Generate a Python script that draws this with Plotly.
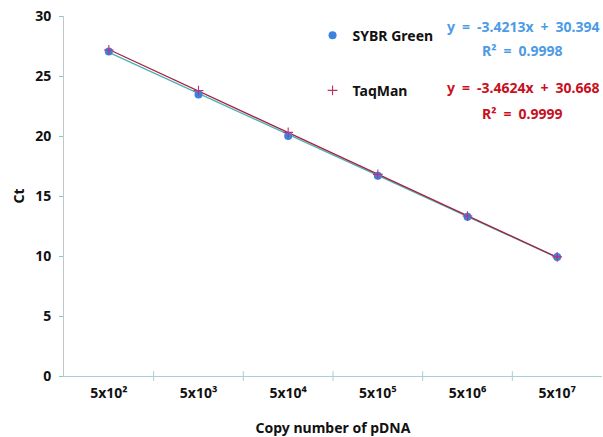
import plotly.graph_objects as go

categories = ["5x10²", "5x10³", "5x10⁴", "5x10⁵", "5x10⁶", "5x10⁷"]
x_pos = [1, 2, 3, 4, 5, 6]
sybr_ct = [27.05, 23.45, 20.0, 16.68, 13.27, 9.92]
taqman_ct = [27.17, 23.78, 20.3, 16.8, 13.33, 9.93]
sybr_fit = (-3.4213, 30.394)
taqman_fit = (-3.4624, 30.668)
sybr_r2 = 0.9998
taqman_r2 = 0.9999

FONT = "Noto Sans"
BLUE_TXT = "#4d9be6"
RED_TXT = "#c8101e"
SP = "\u2002"

fig = go.Figure()

fig.add_trace(go.Scatter(
    x=x_pos, y=[sybr_fit[0] * x + sybr_fit[1] for x in x_pos],
    mode="lines", line=dict(color="#49b3b8", width=1.3), showlegend=False, hoverinfo="skip"))
fig.add_trace(go.Scatter(
    x=x_pos, y=[taqman_fit[0] * x + taqman_fit[1] for x in x_pos],
    mode="lines", line=dict(color="#a8203c", width=1.3), showlegend=False, hoverinfo="skip"))
fig.add_trace(go.Scatter(
    x=x_pos, y=sybr_ct, mode="markers", name="SYBR Green", legendgroup="a",
    marker=dict(symbol="circle", size=8, color="#3b82e0")))
fig.add_trace(go.Scatter(
    x=x_pos, y=taqman_ct, mode="markers", name="TaqMan", legendgroup="b",
    marker=dict(symbol="cross-thin", size=7, line=dict(color="#c0306a", width=1.1))))

fig.update_layout(
    width=603, height=437,
    margin=dict(l=64, r=1, t=16, b=61),
    paper_bgcolor="white", plot_bgcolor="white",
    font=dict(family=FONT, size=13, color="#111111"),
    legend=dict(x=0.462, y=0.99, xanchor="left", yanchor="top",
                font=dict(family=FONT, size=14, color="#111111", weight="bold"),
                tracegroupgap=34, bgcolor="rgba(0,0,0,0)", itemwidth=30),
    xaxis=dict(range=[0.5, 6.5], tickmode="array", tickvals=x_pos, ticktext=categories,
               showgrid=False, zeroline=False, showline=True, linecolor="#a6d0d6", linewidth=1,
               ticks="", ticklabelstandoff=4, tickfont=dict(family=FONT, size=14, weight="bold"),
               title=dict(text="Copy number of pDNA", standoff=22,
                          font=dict(family=FONT, size=14, weight="bold"))),
    yaxis=dict(range=[0, 30], dtick=5, showgrid=False, zeroline=False, showline=True,
               linecolor="#c0c8c8", linewidth=1, ticks="outside", ticklen=4, tickcolor="#8ac8c8",
               ticklabelstandoff=5, tickfont=dict(family=FONT, size=14, weight="bold"),
               title=dict(text="Ct", standoff=7, font=dict(family=FONT, size=14, weight="bold"))),
)

# category boundary tick marks on the x axis
fig.add_trace(go.Scatter(x=[1.5, 2.5, 3.5, 4.5, 5.5], y=[0]*5, mode="markers", showlegend=False,
                         hoverinfo="skip", cliponaxis=False,
                         marker=dict(symbol="line-ns", size=7, line=dict(color="#a6d0d6", width=1))))

eq_font_b = dict(family=FONT, size=14, color=BLUE_TXT, weight="bold")
eq_font_r = dict(family=FONT, size=14, color=RED_TXT, weight="bold")

def eq_text(fit):
    return f"y{SP}={SP}{fit[0]:.4f}x{SP}+{SP}{fit[1]:.3f}"

fig.add_annotation(xref="paper", yref="paper", x=1.0, y=(437 - 61 - 26) / 360, xanchor="right",
                   yanchor="middle", text=eq_text(sybr_fit), showarrow=False, font=eq_font_b)
fig.add_annotation(xref="paper", yref="paper", x=(564 - 64) / 538, y=(437 - 61 - 51) / 360,
                   xanchor="right", yanchor="middle", text=f"R²{SP}={SP}{sybr_r2:.4f}", showarrow=False,
                   font=eq_font_b)
fig.add_annotation(xref="paper", yref="paper", x=1.0, y=(437 - 61 - 88) / 360, xanchor="right",
                   yanchor="middle", text=eq_text(taqman_fit), showarrow=False, font=eq_font_r)
fig.add_annotation(xref="paper", yref="paper", x=(564 - 64) / 538, y=(437 - 61 - 113) / 360,
                   xanchor="right", yanchor="middle", text=f"R²{SP}={SP}{taqman_r2:.4f}", showarrow=False,
                   font=eq_font_r)

fig.write_html("out.html", config={"displayModeBar": False},
               post_script="document.body.style.margin='0';document.body.style.padding='0';")
